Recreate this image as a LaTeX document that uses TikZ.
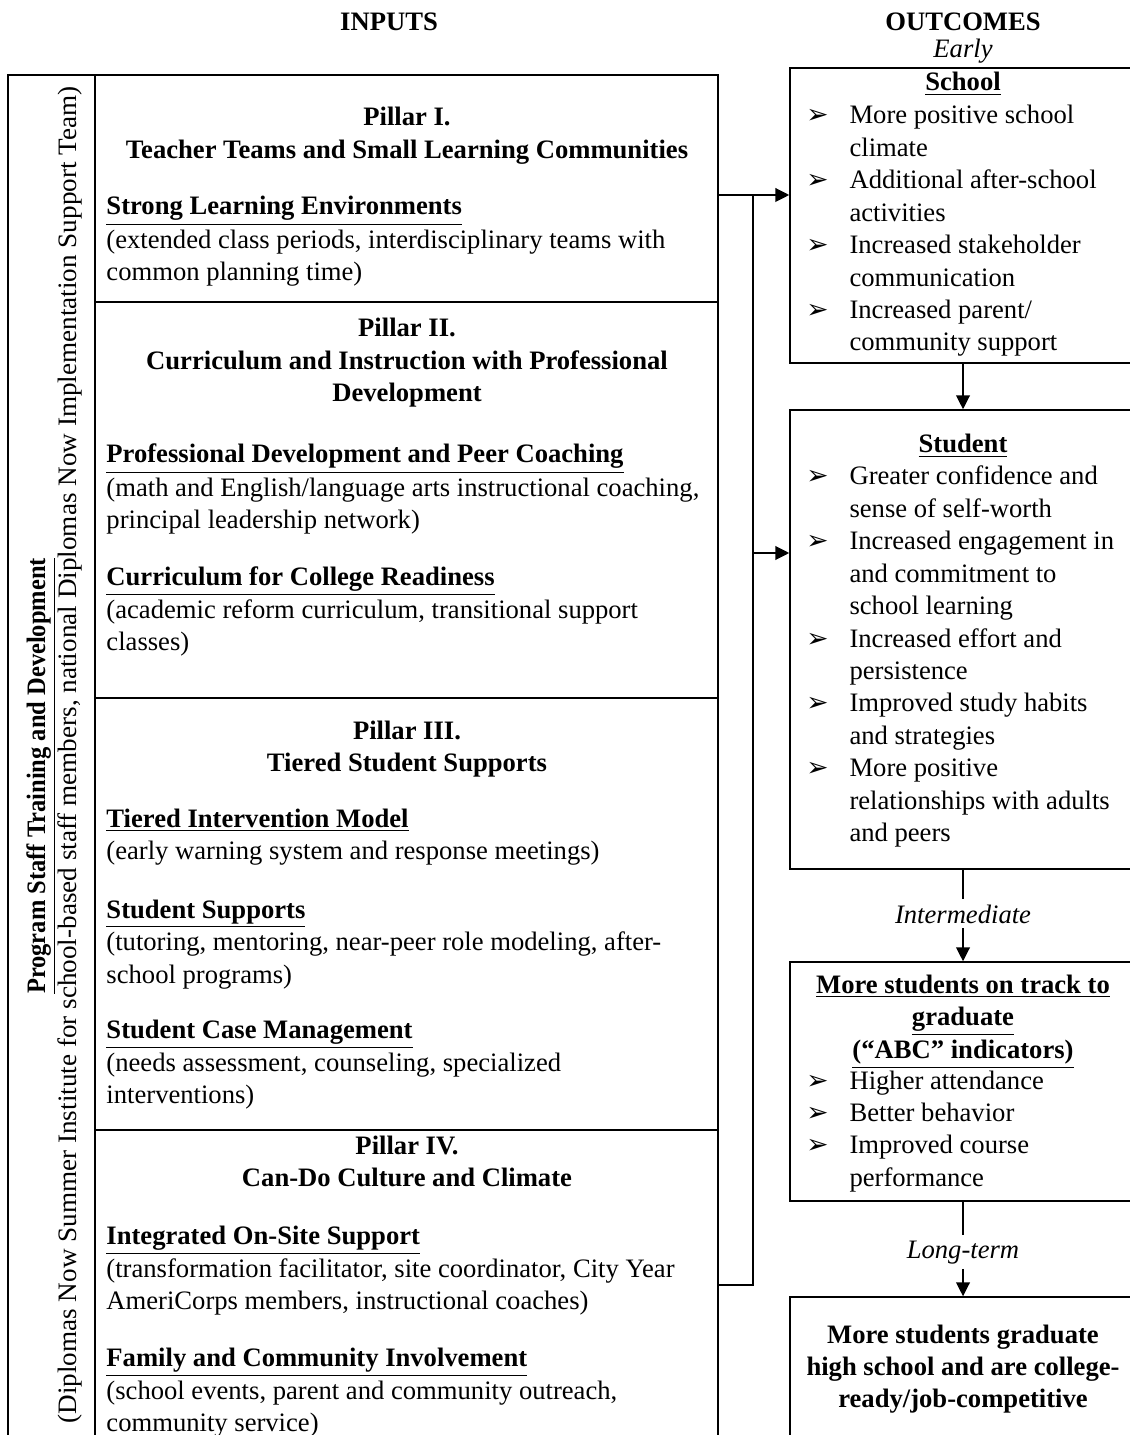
\documentclass[tikz,border=0pt]{standalone}
\usepackage{fontspec}
\setmainfont{Liberation Serif}
\newfontfamily\dejavu{DejaVu Sans}
\usetikzlibrary{arrows.meta}
\usetikzlibrary{fit}
\usetikzlibrary{positioning}
\newcommand{\arr}{{\dejavu\fontsize{11.5}{11.5}\selectfont ➢}}
\newcommand{\ulb}[1]{\underline{\textbf{#1}}}
\newcommand{\fs}{\fontsize{11.5}{14}\selectfont}
\newcommand{\ctab}[1]{\begin{tabular}[t]{@{}c@{}}#1\end{tabular}}
\newcommand{\ltab}[1]{\begin{tabular}[t]{@{}l@{}}#1\end{tabular}}
\newcommand{\btab}[1]{\begin{tabular}[t]{@{}p{18.6pt}@{}l@{}}#1\end{tabular}}
\tikzset{
    box/.style = {rectangle, draw=black, line width=0.6pt, inner sep=0pt},
    txt/.style = {inner sep=0pt, font=\fs},
    head/.style = {inner sep=0pt, anchor=base, font=\fs\bfseries},
    sect/.style = {txt, anchor=base west},
    lst/.style = {txt, anchor=base west},
    stage/.style = {inner sep=2pt, anchor=base, font=\fs\itshape},
    side/.style = {txt, rotate=90, anchor=base},
    edgen/.style = {-{Triangle[length=6pt,width=5.8pt]}, line width=1pt},
    linen/.style = {line width=1pt},
}

\begin{document}
\begin{tikzpicture}[x=0.432pt, y=-0.432pt]
\useasboundingbox (0,0) rectangle (1130,1435);
% boxes
\node[box, fit={(8,75) (95,1440)}] (side) {};
\node[box, fit={(95,75) (718,302)}] (p1) {};
\node[box, fit={(95,302) (718,698)}] (p2) {};
\node[box, fit={(95,698) (718,1130)}] (p3) {};
\node[box, fit={(95,1130) (718,1440)}] (p4) {};
\node[box, fit={(790,68) (1136,363)}] (school) {};
\node[box, fit={(790,410) (1136,869)}] (student) {};
\node[box, fit={(790,962) (1136,1201)}] (track) {};
\node[box, fit={(790,1297) (1136,1440)}] (grad) {};
%
\node[head] (inputs) at (389,31) {INPUTS};
\node[head] (outcomes) at (963,31) {OUTCOMES};
\node[txt, anchor=base, font=\fs\itshape] (early) at (963,58) {Early};
%
\node[side, font=\fs\bfseries] (sidet) at (45,776) {\scalebox{0.92}[1]{\underline{Program Staff Training and Development}}};
\node[side] (sidep) at (76,755) {\scalebox{1.02}[1]{(Diplomas Now Summer Institute for school-based staff members, national Diplomas Now Implementation Support Team)}};
%
\node[head] (h1) at (407,126) {\ctab{Pillar I.\\Teacher Teams and Small Learning Communities}};
\node[sect] (s11) at (106,215) {\ltab{\ulb{Strong Learning Environments}\\(extended class periods, interdisciplinary teams with\\common planning time)}};
%
\node[head] (h2) at (407,337) {\ctab{Pillar II.\\Curriculum and Instruction with Professional\\Development}};
\node[sect] (s21) at (106,463) {\ltab{\ulb{Professional Development and Peer Coaching}\\(math and English/language arts instructional coaching,\\principal leadership network)}};
\node[sect] (s22) at (106,585) {\ltab{\ulb{Curriculum for College Readiness}\\(academic reform curriculum, transitional support\\classes)}};
%
\node[head] (h3) at (407,739) {\ctab{Pillar III.\\Tiered Student Supports}};
\node[sect] (s31) at (106,827) {\ltab{\ulb{Tiered Intervention Model}\\(early warning system and response meetings)}};
\node[sect] (s32) at (106,918) {\ltab{\ulb{Student Supports}\\(tutoring, mentoring, near-peer role modeling, after-\\school programs)}};
\node[sect] (s33) at (106,1038) {\ltab{\ulb{Student Case Management}\\(needs assessment, counseling, specialized\\interventions)}};
%
\node[head] (h4) at (407,1154) {\ctab{Pillar IV.\\Can-Do Culture and Climate}};
\node[sect] (s41) at (106,1244) {\ltab{\ulb{Integrated On-Site Support}\\(transformation facilitator, site coordinator, City Year\\AmeriCorps members, instructional coaches)}};
\node[sect] (s42) at (106,1366) {\ltab{\ulb{Family and Community Involvement}\\(school events, parent and community outreach,\\community service)}};
%
\node[head] (schoolh) at (963,91) {\underline{School}};
\node[lst] (schooll) at (806,124) {\btab{
\arr & More positive school\\
 & climate\\
\arr & Additional after-school\\
 & activities\\
\arr & Increased stakeholder\\
 & communication\\
\arr & Increased parent/\\
 & community support}};
%
\node[head] (studenth) at (963,453) {\underline{Student}};
\node[lst] (studentl) at (806,485) {\btab{
\arr & Greater confidence and\\
 & sense of self-worth\\
\arr & Increased engagement in\\
 & and commitment to\\
 & school learning\\
\arr & Increased effort and\\
 & persistence\\
\arr & Improved study habits\\
 & and strategies\\
\arr & More positive\\
 & relationships with adults\\
 & and peers}};
%
\node[head] (trackh) at (963,993) {\ctab{\underline{More students on track to}\\\underline{graduate}\\\underline{(“ABC” indicators)}}};
\node[lst] (trackl) at (806,1089) {\btab{
\arr & Higher attendance\\
\arr & Better behavior\\
\arr & Improved course\\
 & performance}};
%
\node[head] (gradh) at (963,1343) {\ctab{More students graduate\\high school and are college-\\ready/job-competitive}};
%
\node[stage] (intm) at (963,923) {Intermediate};
\node[stage] (longt) at (963,1258) {Long-term};
%
\coordinate (jt) at (753,195);
\coordinate (jm) at (753,553);
\coordinate (jb) at (753,1285);
\draw[edgen] (jt -| p1.east) -- (jt -| school.west);
\draw[linen] (jt) -- (jb) -- (jb -| p4.east);
\draw[edgen] (jm) -- (jm -| student.west);
\draw[edgen] (school.south) -- (student.north);
\draw[linen] (student.south) -- (intm.north);
\draw[edgen] (intm.south) -- (track.north);
\draw[linen] (track.south) -- (longt.north);
\draw[edgen] (longt.south) -- (grad.north);

\end{tikzpicture}
\end{document}
